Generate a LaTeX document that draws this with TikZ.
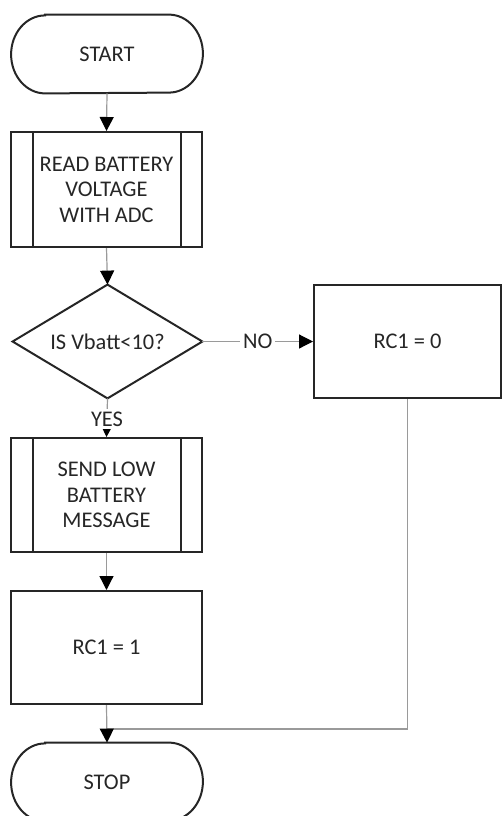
\documentclass[tikz,border=0pt]{standalone}
\usepackage{fontspec}
\setmainfont{Carlito}
\usetikzlibrary{arrows.meta}
\definecolor{ink}{HTML}{262626}
\definecolor{wire}{HTML}{9A9A9A}
\begin{document}
\begin{tikzpicture}[x=0.5pt,y=-0.5pt,
  every node/.style={font=\fontsize{11.2}{12.75}\selectfont, text=ink, align=center},
  boxnode/.style={draw=ink, line width=1pt, minimum width=95.5pt, minimum height=56.5pt, inner sep=0pt},
  hidden/.style={draw=none, minimum width=#1, inner sep=0pt},
  shapeline/.style={draw=ink, line width=1pt},
  conn/.style={draw=wire, line width=0.6pt},
  arr/.style={conn, -{Triangle[length=7pt,width=7pt,fill=black,color=black]}},
  lbl/.style={fill=white, inner sep=1.5pt}
]
\useasboundingbox (0,0) rectangle (502,816);
% nodes
\node[hidden=95.5pt, minimum height=39pt] (start) at (107,54) {START};
\node[boxnode, minimum height=57.5pt] (read) at (106.5,189.5) {READ BATTERY\\VOLTAGE\\WITH ADC};
\node[hidden=94.5pt, minimum height=56.5pt] (dec) at (107.5,341.5) {IS Vbatt<10?};
\node[boxnode, minimum width=93.5pt] (r0) at (407.5,341.5) {RC1 = 0};
\node[boxnode, minimum height=57pt] (send) at (106.5,495) {SEND LOW\\BATTERY\\MESSAGE};
\node[boxnode] (r1) at (106.5,647.5) {RC1 = 1};
\node[hidden=95.5pt, minimum height=39pt] (stop) at (107,782) {STOP};
\coordinate (merge) at (107,729);
% terminal outlines
\foreach \n in {start,stop}{
  \draw[shapeline] ([xshift=17pt]\n.north west) -- ([xshift=-17pt]\n.north east)
    arc[start angle=90,end angle=-90,x radius=17pt,y radius=19.5pt]
    -- ([xshift=17pt]\n.south west)
    arc[start angle=270,end angle=90,x radius=17pt,y radius=19.5pt] -- cycle;
}
% predefined process inner bars
\foreach \n in {read,send}{
  \draw[shapeline] ([xshift=11.5pt]\n.north west) -- ([xshift=11.5pt]\n.south west);
  \draw[shapeline] ([xshift=-11pt]\n.north east) -- ([xshift=-11pt]\n.south east);
}
% decision outline
\draw[shapeline, line join=miter] (dec.north) -- (dec.east) -- (dec.south) -- (dec.west) -- cycle;
% connectors
\draw[arr] (start.south) -- (read.north);
\draw[arr] (read.south) -- (dec.north);
\draw[arr] (dec.east) -- (r0.west) node[lbl, pos=0.5] (no) {NO};
\draw[arr] (dec.south) -- (send.north);
\node[lbl] (yes) at (107,419) {YES};
\draw[arr] (send.south) -- (r1.north);
\draw[conn] (r0.south) |- (merge);
\draw[arr] (r1.south) -- (stop.north);
\end{tikzpicture}
\end{document}
